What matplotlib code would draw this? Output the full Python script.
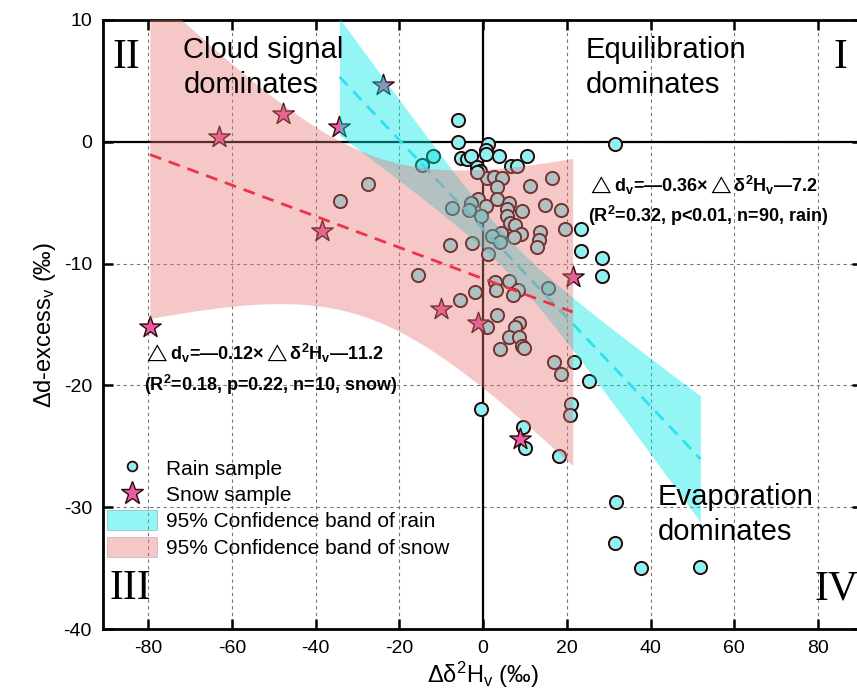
import numpy as np
import matplotlib
matplotlib.use('Agg')
import matplotlib.pyplot as plt
from matplotlib import font_manager
from matplotlib.lines import Line2D
from matplotlib.patches import Patch

# rain samples (delta d2H_v, delta d-excess_v)
rain_x = [-6.1, -6.1, 1.1, 0.7, 0.6, 31.4, -5.3, -3.8, -3.0, 3.7,
          10.5, 6.7, 8.0, -1.4, -0.8, 1.0, 2.6, 4.5, 16.4, 3.3,
          11.3, -1.3, 3.2, 0.6, 6.1, 5.7, 9.3, 14.7, 18.5, -7.5,
          -2.9, -3.3, -0.5, 5.7, 6.5, 7.5, 9.1, 7.3, 4.3, 2.1,
          13.7, 13.4, 12.9, 19.6, 23.4, 23.4, 28.4, 28.5, -7.8, -2.7,
          1.1, -15.6, -5.6, -1.9, 2.9, 3.0, 6.2, 8.3, 7.2, 15.5,
          3.3, 1.0, 8.5, 7.7, 6.2, 8.5, 9.3, 9.7, 4.1, 16.9,
          21.8, 18.5, 25.2, 21.1, 20.7, -0.6, 9.5, 9.9, 18.2, 31.8,
          31.4, 37.6, 51.9, -14.7, -12.0, -27.4, -34.3, -1.4, 4.1]
rain_y = [1.8, 0.0, -0.2, -0.7, -1.0, -0.2, -1.3, -1.4, -1.2, -1.2,
          -1.2, -2.0, -2.0, -2.1, -2.4, -3.0, -2.9, -3.0, -3.0, -3.7,
          -3.6, -4.7, -4.7, -5.3, -5.0, -5.5, -5.7, -5.2, -5.6, -5.4,
          -5.0, -5.6, -6.1, -6.1, -6.7, -6.8, -7.6, -7.8, -7.5, -7.7,
          -7.4, -8.1, -8.6, -7.2, -7.2, -9.0, -9.5, -11.0, -8.5, -8.3,
          -9.2, -10.9, -13.0, -12.3, -11.5, -12.2, -11.4, -12.2, -12.6, -12.0,
          -14.2, -15.2, -14.9, -15.2, -16.0, -16.0, -16.8, -16.9, -17.0, -18.1,
          -18.1, -19.1, -19.6, -21.5, -22.4, -21.9, -23.4, -25.1, -25.8, -29.6,
          -32.9, -35.0, -34.9, -1.9, -1.2, -3.5, -4.9, -2.5, -8.2]

# snow samples
snow_x = [-79.6, -63.1, -47.7, -34.4, -24.0, -38.6, -10.0, -1.3, 21.4, 8.7]
snow_y = [-15.2, 0.4, 2.3, 1.2, 4.7, -7.3, -13.7, -14.9, -11.1, -24.4]

# two-sided 95% t values for n-2 degrees of freedom
t_rain = 1.987
t_snow = 2.306

names = set(f.name for f in font_manager.fontManager.ttflist)
narrow = 'Liberation Sans Narrow' if 'Liberation Sans Narrow' in names else 'Liberation Sans'

plt.rcParams['font.family'] = 'Liberation Sans'
plt.rcParams['axes.unicode_minus'] = False
plt.rcParams['mathtext.fontset'] = 'custom'
plt.rcParams['mathtext.rm'] = 'Liberation Sans'
plt.rcParams['mathtext.bf'] = 'Liberation Sans:bold'
plt.rcParams['mathtext.it'] = 'Liberation Sans:italic'


def fit_band(x, y, t):
    x = np.asarray(x)
    y = np.asarray(y)
    b, a = np.polyfit(x, y, 1)
    n = len(x)
    s = np.sqrt(np.sum((y - (a + b * x)) ** 2) / (n - 2))
    xx = np.linspace(x.min(), x.max(), 200)
    yy = a + b * xx
    hw = t * s * np.sqrt(1 / n + (xx - x.mean()) ** 2 / np.sum((x - x.mean()) ** 2))
    return xx, yy, yy - hw, yy + hw


rain_face = '#8EF2F2'
edge = '#2A0808'
star_face = '#EC5AA2'
cyan_band = '#00E8E8'
pink_band = '#E67575'

fig = plt.figure(figsize=(8.57, 7.0), dpi=100)
ax = fig.add_axes([103 / 857, 71 / 700, 759 / 857, 609 / 700])

ax.set_xlim(-90.8, 90.5)
ax.set_ylim(-40, 10)
ax.set_xticks(np.arange(-80, 81, 20))
ax.set_yticks(np.arange(-40, 11, 10))
ax.grid(True, ls=(0, (3, 3)), color='#777777', lw=0.8)
ax.set_axisbelow(True)

ax.axhline(0, color='black', lw=1.6, zorder=1.5)
ax.axvline(0, color='black', lw=1.6, zorder=1.5)

ax.scatter(rain_x, rain_y, s=90, facecolor=rain_face, edgecolor=edge, linewidth=1.4, zorder=2)
ax.scatter(snow_x, snow_y, s=260, marker='*', facecolor=star_face, edgecolor=edge, linewidth=1.0, zorder=2.2)

rx, ry, rlo, rhi = fit_band(rain_x, rain_y, t_rain)
sx, sy, slo, shi = fit_band(snow_x, snow_y, t_snow)

ax.fill_between(rx, rlo, rhi, color=cyan_band, alpha=0.42, lw=0, zorder=3)
ax.plot(rx, ry, color='#30E0EE', lw=2, dashes=(4.3, 2.9), zorder=3.5)
ax.fill_between(sx, slo, shi, color=pink_band, alpha=0.4, lw=0, zorder=4)
ax.plot(sx, sy, color='#EE3344', lw=2, dashes=(4.3, 2.9), zorder=5)

# quadrant texts
quad = dict(fontsize=21, ha='left', va='center', linespacing=1.35, zorder=6)
ax.text(-71.6, 6.1, 'Cloud signal\ndominates', **quad)
ax.text(24.5, 6.1, 'Equilibration\ndominates', **quad)
ax.text(41.7, -30.6, 'Evaporation\ndominates', **quad)

roman = dict(fontsize=30, family='Liberation Serif', ha='center', va='center', zorder=6)
ax.text(-85.3, 6.9, 'II', **roman)
ax.text(85.3, 6.9, 'I', **roman)
ax.text(-84.3, -36.7, 'III', **roman)
ax.text(84.3, -36.7, 'IV', **roman)

# regression equations
eq = dict(fontsize=13, fontweight='bold', ha='left', va='center', zorder=6)
ax.text(25.0, -3.6, r'$\triangle$d$_\mathbf{v}$=—0.36×$\triangle$δ$^\mathbf{2}$H$_\mathbf{v}$—7.2', **eq)
ax.text(25.0, -6.1, '(R$^\\mathbf{2}$=0.32, p<0.01, n=90, rain)', **eq)
ax.text(-80.9, -17.4, r'$\triangle$d$_\mathbf{v}$=—0.12×$\triangle$δ$^\mathbf{2}$H$_\mathbf{v}$—11.2', **eq)
ax.text(-80.9, -20.0, '(R$^\\mathbf{2}$=0.18, p=0.22, n=10, snow)', **eq)

handles = [
    Line2D([], [], marker='o', ls='none', mfc=rain_face, mec=edge, ms=7, mew=1.3),
    Line2D([], [], marker='*', ls='none', mfc=star_face, mec=edge, ms=17, mew=1.0),
    Patch(facecolor=cyan_band, alpha=0.42, edgecolor='#557777', lw=0.6),
    Patch(facecolor=pink_band, alpha=0.4, edgecolor='#997777', lw=0.6),
]
labels = ['Rain sample', 'Snow sample', '95% Confidence band of rain', '95% Confidence band of snow']
ax.legend(handles, labels, loc='upper left', bbox_to_anchor=(0.0, 0.288), frameon=False,
          fontsize=15, handlelength=2.4, handleheight=1.1, labelspacing=0.25,
          handletextpad=0.4, borderaxespad=0.2, borderpad=0)

ax.tick_params(direction='in', length=7, width=1.8, top=True, right=True, labelsize=14, pad=8)
for lbl in ax.get_xticklabels() + ax.get_yticklabels():
    lbl.set_fontfamily(narrow)
for sp in ax.spines.values():
    sp.set_linewidth(2)

ax.set_xlabel('Δδ$^\\mathregular{2}$H$_\\mathregular{v}$ (‰)', fontsize=17, family=narrow, labelpad=2)
ax.set_ylabel('Δd-excess$_\\mathregular{v}$ (‰)', fontsize=17, family=narrow, labelpad=4)

fig.savefig('out.png', dpi=100)
